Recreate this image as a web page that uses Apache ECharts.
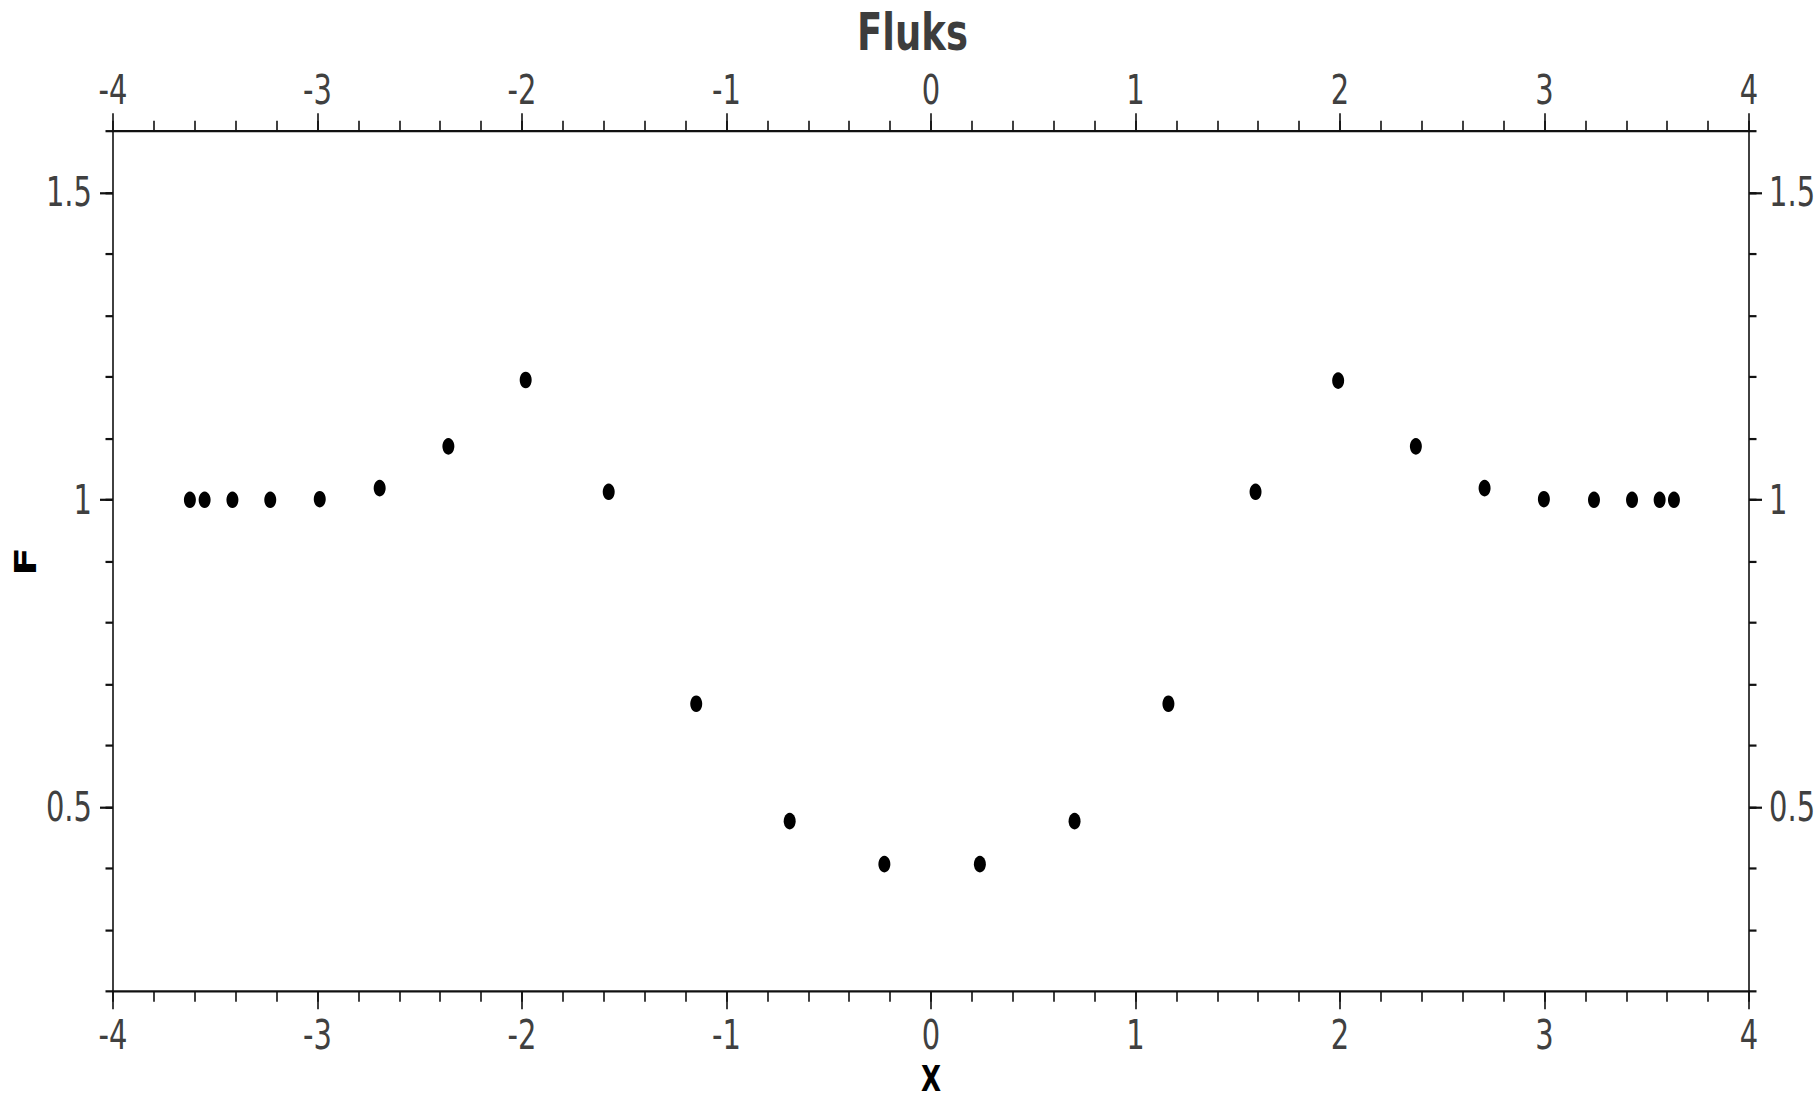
<!DOCTYPE html>
<html>
<head>
<meta charset="utf-8">
<title>Fluks</title>
<script src="https://cdn.jsdelivr.net/npm/echarts@6/dist/echarts.min.js"></script>
<style>
  html, body { margin: 0; padding: 0; background: #ffffff; }
  body { width: 1815px; height: 1099px; }
  /* the plot is laid out on a shorter canvas and stretched vertically */
  #chart {
    width: 1815px;
    height: 796px;
    transform: scale(1, 1.3807);
    transform-origin: 0 0;
  }
</style>
</head>
<body>
<div id="chart"></div>
<script>
// Sample positions X and flux values F
const xValues = [-3.624, -3.552, -3.416, -3.231, -2.989, -2.696, -2.360, -1.982, -1.576, -1.148, -0.691, -0.228,
                 0.239, 0.702, 1.161, 1.587, 1.991, 2.371, 2.707, 2.997, 3.242, 3.428, 3.563, 3.633];
const fValues = [1.0, 1.0, 1.0, 1.0, 1.001, 1.019, 1.087, 1.195, 1.013, 0.668, 0.477, 0.407,
                 0.407, 0.477, 0.668, 1.013, 1.194, 1.087, 1.019, 1.001, 1.0, 1.0, 1.0, 1.0];

// Labelled ticks on the F axes
const fMajorTicks = [0.5, 1, 1.5];

const titleText = 'Fluks';
const xName = 'X';
const fName = 'F';

const points = xValues.map((x, i) => [x, fValues[i]]);

const FONT = 'DejaVu Sans';
const LABEL_COLOR = '#404040';
const LINE_COLOR = '#111111';

function xAxisDef(position, major) {
  return {
    type: 'value',
    position: position,
    min: -4,
    max: 4,
    interval: major ? 1 : 0.2,
    name: (major && position === 'bottom') ? xName : '',
    nameLocation: 'middle',
    nameGap: 50,
    nameMoveOverlap: false,
    nameTextStyle: { fontFamily: FONT, fontSize: 26, fontWeight: 'bold', color: '#000000' },
    axisLine: { show: major, onZero: false, lineStyle: { color: LINE_COLOR, width: 1.6 } },
    axisTick: { show: true, inside: false, length: major ? 13 : 7.5, lineStyle: { color: LINE_COLOR, width: 1.6 } },
    axisLabel: {
      show: major,
      margin: position === 'bottom' ? 17 : 15,
      fontFamily: FONT,
      fontSize: 29,
      color: LABEL_COLOR
    },
    splitLine: { show: false }
  };
}

function yAxisDef(position, major) {
  const def = {
    type: 'value',
    position: position,
    min: 0.2,
    max: 1.6,
    name: (!major && position === 'left') ? fName : '',
    nameLocation: 'middle',
    nameGap: 72,
    nameMoveOverlap: false,
    nameTextStyle: { fontFamily: FONT, fontSize: 31, fontWeight: 'bold', color: '#000000' },
    axisLine: { show: !major, onZero: false, lineStyle: { color: LINE_COLOR, width: 1.6 } },
    axisTick: { show: true, inside: false, length: major ? 13 : 7.5, lineStyle: { color: LINE_COLOR, width: 1.6 } },
    axisLabel: {
      show: major,
      margin: position === 'left' ? 21 : 20,
      fontFamily: FONT,
      fontSize: 29,
      color: LABEL_COLOR
    },
    splitLine: { show: false }
  };
  if (major) {
    def.axisTick.customValues = fMajorTicks;
    def.axisLabel.customValues = fMajorTicks;
  } else {
    def.interval = 0.1;
  }
  return def;
}

const chart = echarts.init(document.getElementById('chart'), null, { renderer: 'svg' });

chart.setOption({
  animation: false,
  backgroundColor: '#ffffff',
  title: {
    text: titleText,
    left: 857,
    top: 5,
    padding: 0,
    textStyle: { fontFamily: FONT, fontSize: 37, fontWeight: 'bold', color: '#3d3d3d' }
  },
  grid: {
    left: 113,
    right: 66,
    top: 95,
    bottom: 78,
    containLabel: false,
    outerBoundsMode: 'none'
  },
  xAxis: [
    xAxisDef('bottom', true),
    xAxisDef('bottom', false),
    xAxisDef('top', true),
    xAxisDef('top', false)
  ],
  yAxis: [
    yAxisDef('left', false),
    yAxisDef('left', true),
    yAxisDef('right', false),
    yAxisDef('right', true)
  ],
  series: [{
    type: 'scatter',
    xAxisIndex: 0,
    yAxisIndex: 0,
    data: points,
    symbol: 'circle',
    symbolSize: 12,
    itemStyle: { color: '#000000', opacity: 1 }
  }]
});
</script>
</body>
</html>
